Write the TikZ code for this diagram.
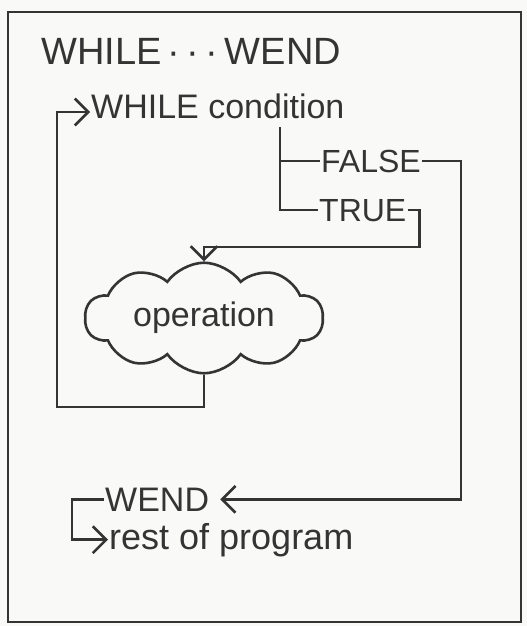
\documentclass[tikz,border=0pt]{standalone}
\usepackage{fontspec}
\setmainfont{Liberation Sans}
\usetikzlibrary{positioning,shapes.symbols,arrows.meta}
\definecolor{SketchInk}{RGB}{52,52,52}
\definecolor{SketchPaper}{RGB}{249,249,247}

\begin{document}
\begin{tikzpicture}[%
      x=1pt, y=-1pt,
      hand/.style={font=\fontsize{34}{38}\selectfont, text=SketchInk, inner sep=1pt, anchor=base west},
      bubble/.style={cloud, cloud puffs=10, cloud puff arc=110, aspect=2.6, draw=SketchInk, line width=2.6pt, minimum width=238pt, minimum height=94pt, font=\fontsize{34}{38}\selectfont, text=SketchInk},
      flow/.style={-{Straight Barb[scale=2]}, line width=2.6pt, SketchInk},
      link/.style={line width=2.6pt, SketchInk}
    ]
      \useasboundingbox[fill=SketchPaper] (0,0) rectangle (527,626);
      \draw[link] (8,12) rectangle (521,622);

      % Nodes
      \node[hand, font=\fontsize{38}{42}\selectfont] (title) at (40,65) {WHILE\,·\,·\,·\,WEND};
      \node[hand] (while) at (90,118) {WHILE condition};
      \node[hand, font=\fontsize{32}{36}\selectfont] (false) at (320,172) {FALSE};
      \node[hand, font=\fontsize{32}{36}\selectfont] (true) at (318,221) {TRUE};
      \node[bubble] (op) at (204,318) {operation};
      \node[hand] (wend) at (104,511) {WEND};
      \node[hand, font=\fontsize{36}{40}\selectfont] (rest) at (108,549) {rest of program};

      \coordinate (split) at (280,127);
      \coordinate (loopcorner) at (57,407);
      \coordinate (farright) at (461,0);

      % Connections
      \draw[link] (split) |- (false.west);
      \draw[link] (split) |- (true.west);
      \draw[flow] (true.east) -- ++(12,0) |- (op.north |- 0,247) -- (op.north);
      \draw[flow] (op.south) |- (loopcorner) |- ([yshift=6pt]while.base west);
      \draw[flow, shorten >=10pt] (false.east) -| (farright |- wend.east) -- (wend.east);
      \draw[flow] (wend.west) -- ++(-32,0) |- (rest.west);
    \end{tikzpicture}
\end{document}
